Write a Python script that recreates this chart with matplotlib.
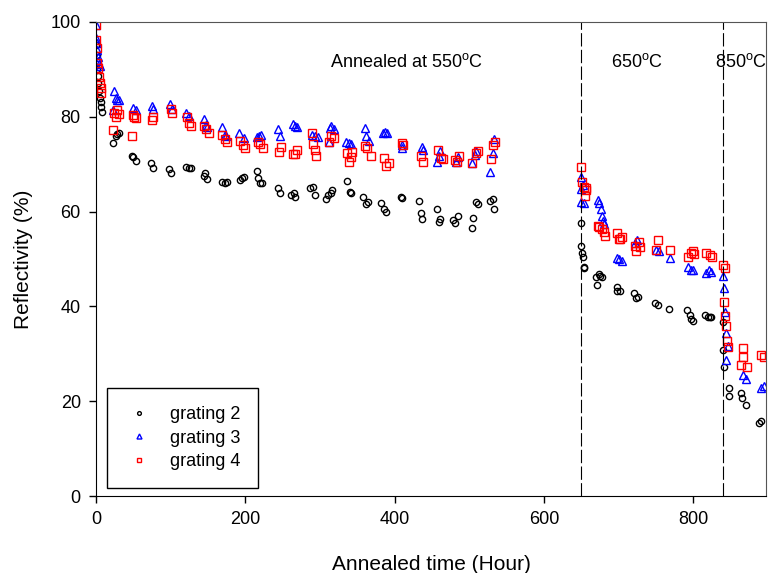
import matplotlib
matplotlib.use("Agg")
import matplotlib.pyplot as plt

plt.rcParams['font.family'] = ['Liberation Sans', 'DejaVu Sans']
plt.rcParams['mathtext.fontset'] = 'custom'
plt.rcParams['mathtext.rm'] = 'Liberation Sans'

# grating 2 (black circles)
t2 = [0.5, 1, 1.5, 2, 3, 4, 5, 6, 7, 8,
      23, 26, 28, 30, 48, 50, 53, 74, 76, 98, 100, 120, 124, 127, 144, 146, 148,
      168, 172, 175, 193, 196, 198, 215, 217, 220, 222, 244, 246, 261, 265, 266,
      287, 290, 293, 308, 311, 314, 316, 336, 340, 342, 358, 361, 364, 382, 385,
      388, 408, 410, 433, 435, 437, 456, 459, 461, 478, 481, 484, 504, 505, 509,
      511, 527, 531, 533,
      649, 650, 651, 652, 653, 654, 670, 671, 673, 675, 677, 697, 698, 701, 720,
      723, 726, 748, 752, 767, 791, 795, 797, 799, 815, 819, 822, 824, 839,
      840, 841, 848, 847, 864, 865, 870, 888, 891]
r2 = [95, 93, 90, 88.5, 87, 85.5, 84, 83, 82, 81,
      74.5, 76, 76.3, 76.5, 71.8, 71.5, 70.6, 70.2, 69.1, 68.9, 68.1, 69.4, 69.1,
      69.2, 67.5, 68.2, 66.8, 66.3, 66.1, 66.2, 66.6, 67.0, 67.3, 68.6, 67.1, 66.0,
      66.1, 65.0, 64.0, 63.5, 64.0, 63.0, 65.0, 65.2, 63.5, 62.7, 63.4, 64.0, 64.5,
      66.4, 64.2, 64.0, 63.0, 61.5, 62.0, 61.8, 60.5, 60.0, 63.1, 62.8, 62.2, 59.6,
      58.4, 60.5, 57.8, 58.5, 58.2, 57.5, 59.0, 56.5, 58.6, 62.0, 61.5, 62.3, 62.7,
      60.5,
      57.6, 52.7, 51.2, 50.4, 48.3, 48.0, 46.2, 44.6, 46.8, 46.5, 46.2, 44.1, 43.3,
      43.3, 42.8, 41.8, 41.9, 40.7, 40.4, 39.4, 39.2, 38.1, 37.4, 37.0, 38.2, 37.8,
      37.7, 37.8, 36.7,
      30.8, 27.2, 22.8, 21.2, 21.7, 20.7, 19.2, 15.4, 15.8]

# grating 3 (blue triangles)
t3 = [0, 0.5, 1, 1.5, 2, 3, 4, 5,
      22, 24, 26, 28, 30, 49, 53, 75, 76, 99, 101, 121, 125, 144, 147, 149, 168,
      172, 174, 192, 198, 215, 218, 221, 244, 246, 263, 267, 269, 289, 293, 297,
      312, 313, 315, 318, 335, 338, 341, 360, 362, 366, 384, 387, 390, 409, 410,
      436, 438, 457, 461, 459, 482, 485, 503, 507, 509, 528, 531, 533,
      649, 650, 652, 654, 649, 672, 674, 676, 677, 679, 680, 697, 700, 704, 722,
      725, 750, 754, 768, 792, 796, 800, 817, 821, 823, 840, 841,
      842, 844, 846, 844, 866, 870, 891, 894]
r3 = [99.4, 96.6, 95.5, 94, 92.6, 91.8, 91.2, 90.6,
      81.5, 85.4, 84.0, 83.5, 83.6, 81.8, 81.4, 82.3, 81.6, 82.7, 81.7, 80.8, 80.2,
      79.5, 78.3, 77.8, 77.8, 76.2, 75.9, 76.6, 75.6, 75.8, 76.0, 76.1, 77.4, 76.0,
      78.5, 78.0, 77.9, 76.2, 76.0, 75.8, 74.7, 77.6, 78.0, 77.5, 74.7, 74.5, 74.2,
      77.6, 76.0, 74.8, 76.5, 76.8, 76.6, 74.0, 73.3, 73.6, 73.0, 70.5, 72.8, 71.8,
      70.5, 71.6, 70.2, 72.0, 72.7, 68.4, 72.3, 75.2,
      67.3, 64.7, 65.5, 61.9, 62.0, 62.4, 61.8, 60.5, 59.1, 58.1, 57.4, 50.2, 50.0,
      49.6, 53.3, 54.0, 51.9, 51.6, 50.2, 48.4, 47.7, 47.7, 47.0, 47.7, 47.2, 46.4,
      43.9,
      38.8, 34.4, 31.6, 28.7, 25.5, 24.8, 22.8, 23.2]

# grating 4 (red squares)
t4 = [0, 0.5, 1, 1.5, 2.5, 3.5, 5, 6, 7,
      23, 24, 26, 28, 30, 48, 49, 51, 54, 76, 75, 100, 101, 122, 124, 127, 145, 147,
      151, 169, 172, 175, 193, 197, 200, 217, 220, 223, 245, 247, 264, 267, 269,
      289, 291, 293, 295, 312, 315, 319, 336, 339, 341, 343, 360, 363, 368, 385,
      388, 392, 409, 411, 435, 438, 458, 462, 465, 481, 486, 483, 504, 509, 512,
      529, 531, 534,
      650, 651, 654, 656, 655, 656, 672, 674, 677, 680, 682, 697, 701, 704, 700,
      721, 723, 727, 728, 752, 750, 768, 792, 797, 799, 801, 817, 822, 825, 840, 842,
      841, 842, 843, 845, 846, 866, 866, 864, 872, 891, 894]
r4 = [99.4, 96.2, 94.5, 91.3, 90.3, 88.4, 87.0, 86.0, 85.0,
      77.2, 80.8, 80.0, 81.4, 80.6, 75.9, 80.4, 80.0, 79.8, 80.0, 79.2, 81.6, 80.8,
      80.0, 78.6, 78.1, 78.1, 77.5, 76.6, 76.2, 75.3, 74.7, 74.9, 74.0, 73.3, 74.7,
      74.2, 73.5, 72.6, 73.6, 72.2, 72.2, 73.0, 76.5, 74.3, 73.0, 71.8, 74.7, 76.0,
      75.5, 72.3, 70.4, 71.6, 72.5, 73.8, 73.3, 71.7, 71.3, 69.6, 70.3, 74.5, 74.0,
      71.7, 70.4, 73.0, 71.3, 71.0, 70.9, 71.8, 70.4, 70.3, 72.4, 72.8, 71.0, 74.1,
      74.7,
      69.4, 66.3, 65.2, 65.0, 63.3, 64.5, 57.0, 56.8, 56.3, 55.6, 54.9, 55.5, 54.2,
      54.6, 54.3, 52.7, 51.6, 53.6, 52.6, 54.0, 52.0, 51.9, 50.4, 51.2, 51.6, 51.0,
      51.2, 50.9, 50.4, 48.7, 48.0,
      40.9, 38.0, 35.9, 32.7, 31.4, 31.2, 29.3, 27.7, 27.2, 29.7, 29.3]

stage_bounds = [650, 840]
stage_labels = ["Annealed at 550$^{\\mathrm{o}}$C", "650$^{\\mathrm{o}}$C", "850$^{\\mathrm{o}}$C"]
stage_label_x = [313, 690, 829]

fig = plt.figure(figsize=(7.69, 5.73), dpi=100)
ax = fig.add_axes([0.125, 0.134, 0.871, 0.828])

ax.plot(t2, r2, 'o', ms=4.5, mfc='none', mec='black', mew=1.0, label='grating 2')
ax.plot(t3, r3, '^', ms=6, mfc='none', mec='blue', mew=1.0, label='grating 3')
ax.plot(t4, r4, 's', ms=5.5, mfc='none', mec='red', mew=1.0, label='grating 4')

for xb in stage_bounds:
    ax.axvline(xb, color='black', lw=0.8, linestyle=(0, (12, 3)))

for lab, xl in zip(stage_labels, stage_label_x):
    ax.text(xl, 91.6, lab, fontsize=13, va='center', ha='left')

ax.set_xlim(0, 897)
ax.set_ylim(0, 100)
ax.set_xticks([0, 200, 400, 600, 800])
ax.set_yticks([0, 20, 40, 60, 80, 100])
ax.tick_params(direction='out', length=5, width=1, labelsize=13, pad=6,
               top=False, right=False)
for s in ['top', 'right']:
    ax.spines[s].set_color('#555555')
ax.set_xlabel('Annealed time (Hour)', fontsize=15, labelpad=19)
ax.set_ylabel('Reflectivity (%)', fontsize=15, labelpad=13)

leg = ax.legend(loc='lower left', bbox_to_anchor=(0.016, 0.017), borderaxespad=0,
                fancybox=False, edgecolor='black', framealpha=1, fontsize=13,
                markerscale=0.6, handletextpad=0.9, borderpad=1.0,
                labelspacing=0.35, handlelength=1.6)
leg.get_frame().set_linewidth(1.0)

fig.savefig('out.png', dpi=100)
